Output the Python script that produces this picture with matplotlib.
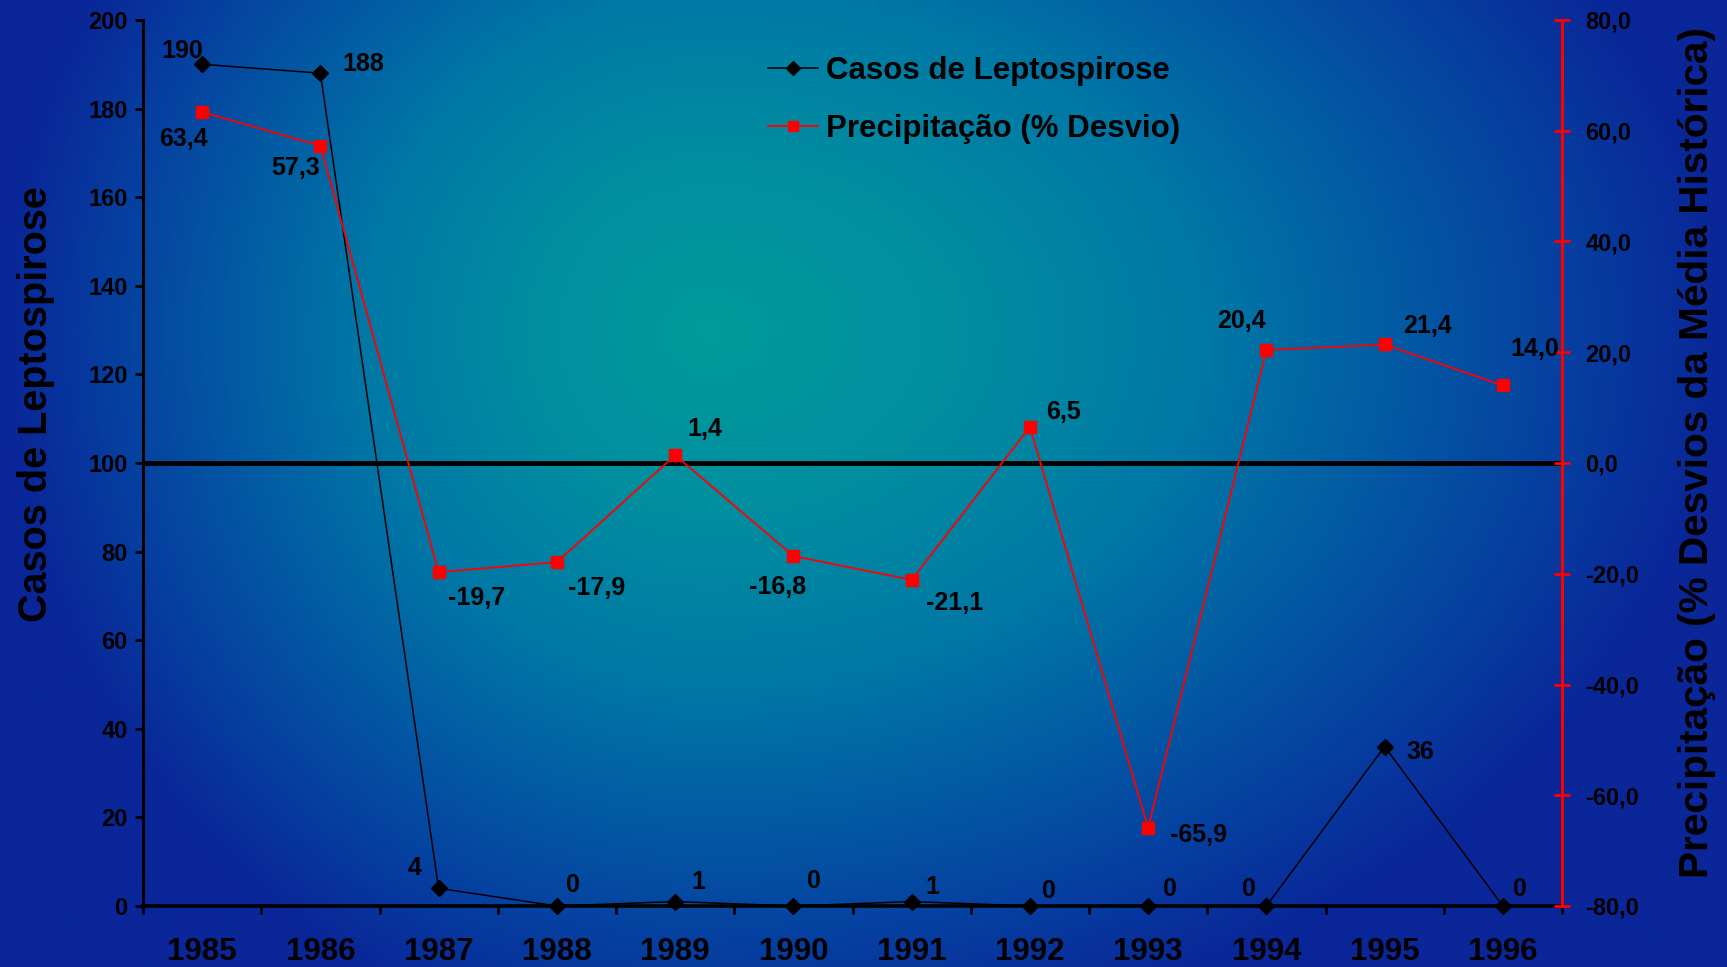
import numpy as np
import matplotlib
matplotlib.use('Agg')
import matplotlib.pyplot as plt
from matplotlib.ticker import FuncFormatter, FixedLocator

plt.rcParams['font.family'] = ['Liberation Sans', 'DejaVu Sans']
plt.rcParams['font.weight'] = 'bold'

# data
years = ['1985', '1986', '1987', '1988', '1989', '1990',
         '1991', '1992', '1993', '1994', '1995', '1996']
casos = [190, 188, 4, 0, 1, 0, 1, 0, 0, 0, 36, 0]
precip = [63.4, 57.3, -19.7, -17.9, 1.4, -16.8, -21.1, 6.5, -65.9, 20.4, 21.4, 14.0]

# label offsets in pixels (dx, dy), layout only
casos_off = [(-20, 13), (43, 9), (-24, 20), (16, 21), (23, 20), (21, 25),
             (21, 15), (19, 15), (22, 17), (-17, 17), (36, -5), (17, 17)]
precip_off = [(-19, -27), (-25, -22), (38, -26), (40, -26), (30, 26), (-16, -31),
              (43, -23), (34, 15), (50, -7), (-25, 29), (43, 18), (32, 36)]

W, H = 1727, 967
fig = plt.figure(figsize=(W / 100, H / 100), dpi=100)

# background: teal centre fading to blue edges
bg = fig.add_axes([0, 0, 1, 1], zorder=-10)
gy, gx = np.mgrid[0:H:4, 0:W:4].astype(float)
cx, cy = 705, 330
sx = np.where(gx < cx, cx, W - cx)
sy = np.where(gy < cy, 700.0, 730.0)
d = np.sqrt(((gx - cx) / sx) ** 2 + ((gy - cy) / sy) ** 2)
d = np.clip(d, 0, 1)
stops = [0.0, 0.25, 0.5, 0.85, 1.0]
cols = np.array([[0, 155, 155], [0, 142, 160], [0, 118, 166],
                 [6, 62, 160], [10, 38, 152]]) / 255.0
img = np.stack([np.interp(d, stops, cols[:, k]) for k in range(3)], axis=-1)
bg.imshow(img, extent=[0, 1, 0, 1], aspect='auto', interpolation='bilinear')
bg.axis('off')

ax = fig.add_axes([143 / W, 1 - 906 / H, (1562 - 143) / W, (906 - 20) / H])
ax.patch.set_alpha(0)
ax2 = ax.twinx()
ax2.patch.set_alpha(0)

x = np.arange(len(years))

ax.axhline(100, color='black', lw=3.5, zorder=1)
l1, = ax.plot(x, casos, color='black', lw=1.1, marker='D', markersize=8,
              clip_on=False, zorder=3)
l2, = ax2.plot(x, precip, color='red', lw=1.3, marker='s', markersize=8,
               markeredgecolor='red', clip_on=False, zorder=3)

ax.set_xlim(-0.5, len(years) - 0.5)
ax.set_ylim(0, 200)
ax2.set_ylim(-80, 80)

# x ticks at category boundaries, labels at centres
ax.xaxis.set_major_locator(FixedLocator(np.arange(-0.5, len(years), 1.0)))
ax.xaxis.set_minor_locator(FixedLocator(x))
ax.set_xticklabels([], minor=False)
ax.set_xticklabels(years, minor=True)
ax.tick_params(axis='x', which='major', direction='out', length=6, width=2, color='black')
ax.tick_params(axis='x', which='minor', length=0, pad=22, labelsize=22.5)

ax.set_yticks(np.arange(0, 201, 20))
ax.tick_params(axis='y', direction='out', length=6, width=2, labelsize=17, pad=5)

ax2.set_yticks(np.arange(-80, 81, 20))
ax2.yaxis.set_major_formatter(FuncFormatter(lambda v, p: f"{v:.1f}".replace('.', ',')))
ax2.tick_params(axis='y', direction='inout', length=12, width=2, color='red',
                labelsize=17, labelcolor='black', pad=11)

for s in ['top', 'right']:
    ax.spines[s].set_visible(False)
ax.spines['left'].set_linewidth(2.2)
ax.spines['bottom'].set_linewidth(2.6)
for s in ['top', 'left', 'bottom']:
    ax2.spines[s].set_visible(False)
ax2.spines['right'].set_color('red')
ax2.spines['right'].set_linewidth(2.2)

for xi, v, (dx, dy) in zip(x, casos, casos_off):
    ax.annotate(str(v), (xi, v), xytext=(dx, dy), textcoords='offset pixels',
                ha='center', va='center', fontsize=18, fontweight='bold')
for xi, v, (dx, dy) in zip(x, precip, precip_off):
    ax2.annotate(f"{v:.1f}".replace('.', ','), (xi, v), xytext=(dx, dy),
                 textcoords='offset pixels', ha='center', va='center',
                 fontsize=18, fontweight='bold')

fig.text(36 / W, 1 - 404 / H, 'Casos de Leptospirose', rotation=90,
         ha='center', va='center', fontsize=28.5, fontweight='bold')
fig.text(1697 / W, 1 - 453 / H, 'Precipitação (% Desvios da Média Histórica)',
         rotation=90, ha='center', va='center', fontsize=29.2, fontweight='bold')

fig.legend([l1, l2], ['Casos de Leptospirose', 'Precipitação (% Desvio)'],
           loc='center left', bbox_to_anchor=(768 / W, 1 - 100 / H),
           frameon=False, fontsize=22.5, handlelength=1.6, handletextpad=0.25,
           labelspacing=0.87, borderpad=0, borderaxespad=0, markerscale=0.9)

fig.savefig('out.png', dpi=100)
